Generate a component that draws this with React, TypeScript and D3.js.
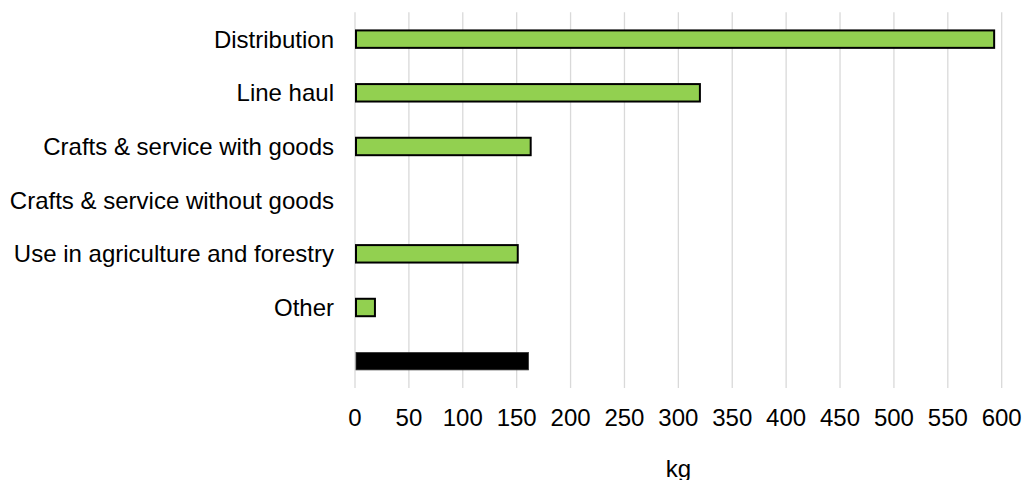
import React from "react";
import * as d3 from "d3";

// Categories, top to bottom; the last row is the unlabeled average bar
const categories: string[] = [
  "Distribution",
  "Line haul",
  "Crafts & service with goods",
  "Crafts & service without goods",
  "Use in agriculture and forestry",
  "Other",
  "",
];
const values: number[] = [593, 320, 163, 0, 151, 18.5, 161];
const highlight: boolean[] = [false, false, false, false, false, false, true];
const xTicks: number[] = [0, 50, 100, 150, 200, 250, 300, 350, 400, 450, 500, 550, 600];
const xTitle = "kg";

const W = 1024;
const H = 480;
const margin = { left: 355, right: 22.3, top: 12.3, bottom: 92 };
const FONT = "Arial, 'Liberation Sans', Helvetica, sans-serif";

export default function App() {
  const x = d3
    .scaleLinear()
    .domain([0, 600])
    .range([margin.left, W - margin.right]);
  const rows = categories.map((c, i) => ({ key: `r${i}`, label: c, value: values[i], dark: highlight[i] }));
  const y = d3
    .scaleBand<string>()
    .domain(rows.map((r) => r.key))
    .range([margin.top, H - margin.bottom])
    .paddingInner(0.675)
    .paddingOuter(0.3375);
  const bw = y.bandwidth();
  const plotBottom = H - margin.bottom;
  const plotCenter = (x.range()[0] + x.range()[1]) / 2;

  return (
    <svg
      width={W}
      height={H}
      style={{ position: "absolute", left: 0, top: 0, background: "#fff" }}
      fontFamily={FONT}
    >
      <rect x={0} y={0} width={W} height={H} fill="#fff" />
      {/* vertical gridlines */}
      {xTicks.map((t) => (
        <line
          key={`g${t}`}
          x1={x(t)}
          x2={x(t)}
          y1={margin.top}
          y2={plotBottom}
          stroke="#d9d9d9"
          strokeWidth={1.3}
        />
      ))}
      {/* bars */}
      {rows
        .filter((r) => r.value > 0)
        .map((r) => (
          <rect
            key={r.key}
            x={x(0) + 1}
            y={(y(r.key) as number)}
            width={x(r.value) - x(0) - 1}
            height={bw}
            fill={r.dark ? "#000" : "#92d050"}
            stroke={r.dark ? "#333" : "#000"}
            strokeWidth={r.dark ? 0.8 : 2}
          />
        ))}
      {/* category labels */}
      {rows.map((r) => (
        <text
          key={`l${r.key}`}
          x={334}
          y={(y(r.key) as number) + bw / 2 + 8.4}
          textAnchor="end"
          fontSize={24}
          fill="#000"
        >
          {r.label}
        </text>
      ))}
      {/* x tick labels */}
      {xTicks.map((t) => (
        <text
          key={`t${t}`}
          x={x(t)}
          y={425.5}
          textAnchor="middle"
          fontSize={24}
          fill="#000"
        >
          {t}
        </text>
      ))}
      {/* axis title */}
      <text x={plotCenter} y={476.5} textAnchor="middle" fontSize={24} fill="#000">
        {xTitle}
      </text>
    </svg>
  );
}
